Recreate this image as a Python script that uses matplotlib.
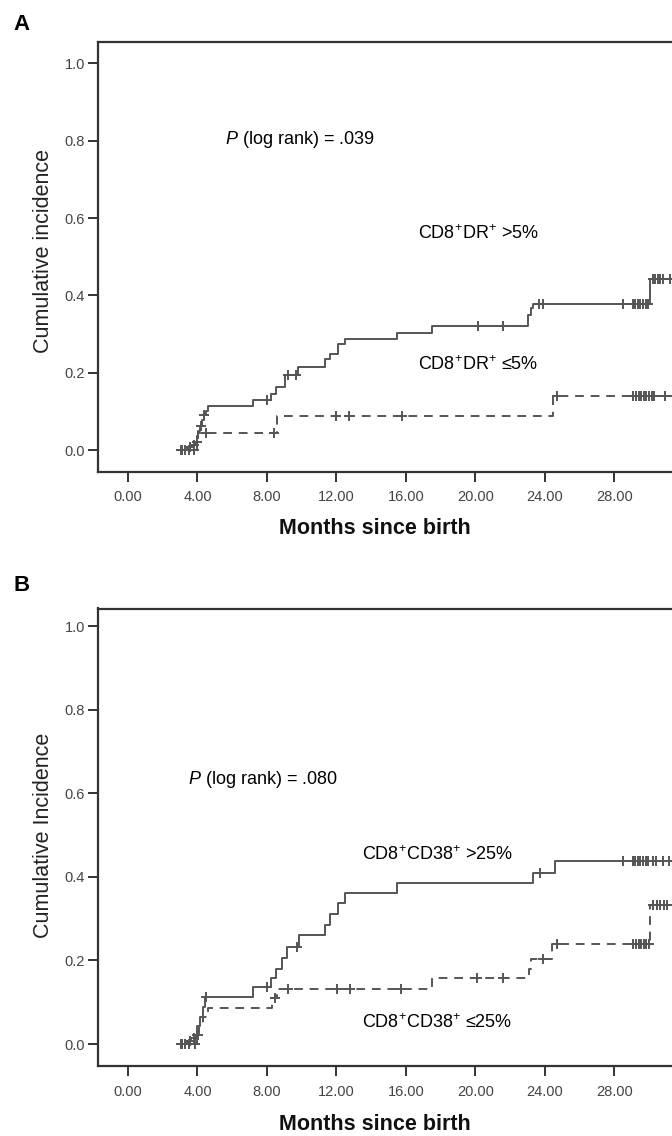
import numpy as np
import matplotlib.pyplot as plt

plt.rcParams['font.family'] = ['Liberation Sans', 'DejaVu Sans']
plt.rcParams['mathtext.fontset'] = 'custom'
plt.rcParams['mathtext.rm'] = 'Liberation Sans'
plt.rcParams['mathtext.it'] = 'Liberation Sans:italic'

# ---- data (months, cumulative incidence) ----
x_ticks = [0, 4, 8, 12, 16, 20, 24, 28]
y_ticks = [0.0, 0.2, 0.4, 0.6, 0.8, 1.0]
follow_start = 2.9
follow_end = 32.5

# panel A: CD8+DR+ > 5% (solid)
a_hi_times = [3.40, 3.65, 3.90, 4.00, 4.05, 4.15, 4.25, 4.35, 4.50, 4.62,
              7.20, 8.26, 8.54, 9.02, 9.79, 11.32, 11.61, 12.09, 12.47,
              15.47, 17.48, 23.05, 23.20, 23.33, 30.05]
a_hi_level = [0.007, 0.014, 0.021, 0.035, 0.049, 0.063, 0.077, 0.091, 0.102, 0.113,
              0.129, 0.145, 0.164, 0.194, 0.215, 0.236, 0.249, 0.273, 0.287,
              0.304, 0.322, 0.349, 0.367, 0.378, 0.442]
a_hi_cens = [3.05, 3.30, 3.55, 3.80, 3.95, 4.20, 4.40, 8.00, 9.21, 9.69,
             20.13, 21.60, 23.68, 23.87, 28.48, 29.05, 29.20, 29.35, 29.50,
             29.65, 29.80, 29.95, 30.20, 30.35, 30.50, 30.65, 30.80, 31.20]

# panel A: CD8+DR+ <= 5% (dashed)
a_lo_times = [3.95, 4.05, 8.56, 24.45]
a_lo_level = [0.021, 0.043, 0.087, 0.140]
a_lo_cens = [3.10, 3.50, 3.80, 4.49, 8.40, 12.00, 12.75, 15.75, 24.68,
             29.10, 29.25, 29.40, 29.55, 29.70, 29.85, 30.00, 30.15, 30.30, 30.90]

# panel B: CD8+CD38+ > 25% (solid)
b_hi_times = [3.40, 3.65, 3.90, 4.00, 4.15, 4.30, 4.45, 7.21, 8.21, 8.52,
              8.85, 9.14, 9.84, 11.34, 11.61, 12.09, 12.47, 15.50, 23.33, 24.60]
b_hi_level = [0.007, 0.014, 0.021, 0.043, 0.065, 0.088, 0.113, 0.136, 0.157, 0.179,
              0.205, 0.233, 0.260, 0.284, 0.310, 0.337, 0.361, 0.386, 0.410, 0.439]
b_hi_cens = [3.05, 3.30, 3.55, 3.80, 3.95, 4.49, 7.98, 9.71, 23.72, 28.48,
             29.05, 29.20, 29.35, 29.50, 29.65, 29.80, 29.95, 30.20, 30.40,
             30.78, 31.16]

# panel B: CD8+CD38+ <= 25% (dashed)
b_lo_times = [3.95, 4.10, 4.30, 4.60, 8.30, 8.55, 17.48, 23.08, 23.20, 24.42, 30.07]
b_lo_level = [0.022, 0.044, 0.065, 0.087, 0.109, 0.131, 0.157, 0.180, 0.203, 0.239, 0.333]
b_lo_cens = [3.10, 3.50, 3.85, 4.05, 8.45, 9.23, 12.05, 12.77, 15.72, 20.10,
             21.60, 23.87, 24.70, 29.10, 29.25, 29.40, 29.55, 29.70, 29.85,
             30.00, 30.25, 30.45, 30.65, 30.85, 31.05]

LINE = '#555555'
SPINE = '#333333'
W, H = 672, 1136


def px_axes(fig, left, top, right, bottom):
    '''axes from pixel edges (origin top-left)'''
    return fig.add_axes([left / W, 1 - bottom / H, (right - left) / W, (bottom - top) / H])


def km_curve(ax, times, levels, cens, ls):
    t = np.r_[follow_start, times, follow_end]
    v = np.r_[0.0, levels, levels[-1]]
    ax.step(t, v, where='post', color=LINE, lw=1.4, ls=ls)
    idx = np.searchsorted(t, cens, side='right') - 1
    ax.plot(cens, v[idx], ls='none', marker='+', ms=7, mew=1.4, color=LINE)


def style_axes(ax, ylim):
    ax.set_xlim(-1.71, 34.5)
    ax.set_ylim(*ylim)
    ax.set_xticks(x_ticks)
    ax.set_xticklabels([f'{v:.2f}' for v in x_ticks])
    ax.set_yticks(y_ticks)
    ax.set_yticklabels([f'{v:.1f}' for v in y_ticks])
    for s in ax.spines.values():
        s.set_color(SPINE)
        s.set_linewidth(1.6)
    ax.tick_params(axis='both', direction='out', length=7.5, width=1.4,
                   color=SPINE, labelcolor='#444444', labelsize=10.5)
    ax.tick_params(axis='x', pad=6)
    ax.tick_params(axis='y', pad=2)


fig = plt.figure(figsize=(W / 100, H / 100), dpi=100)

# ---------- panel A ----------
axA = px_axes(fig, 98.3, 41.7, 128 + 17.37 * 34.5, 471.7)
style_axes(axA, (-0.0561, 1.0564))
km_curve(axA, a_hi_times, a_hi_level, a_hi_cens, '-')
km_curve(axA, a_lo_times, a_lo_level, a_lo_cens, (0, (4.5, 3.5)))
axA.text(5.58, 0.804, r'$\mathit{P}$ (log rank) = .039', fontsize=13, va='center')
axA.text(16.71, 0.561, r'CD8$^{+}$DR$^{+}$ >5%', fontsize=13, va='center')
axA.text(16.71, 0.220, r'CD8$^{+}$DR$^{+}$ ≤5%', fontsize=13, va='center')

# ---------- panel B ----------
axB = px_axes(fig, 98.3, 608.5, 128 + 17.37 * 34.5, 1066)
style_axes(axB, (-0.0526, 1.042))
km_curve(axB, b_hi_times, b_hi_level, b_hi_cens, '-')
km_curve(axB, b_lo_times, b_lo_level, b_lo_cens, (0, (4.5, 3.5)))
axB.text(3.47, 0.634, r'$\mathit{P}$ (log rank) = .080', fontsize=13, va='center')
axB.text(13.45, 0.452, r'CD8$^{+}$CD38$^{+}$ >25%', fontsize=13, va='center')
axB.text(13.45, 0.050, r'CD8$^{+}$CD38$^{+}$ ≤25%', fontsize=13, va='center')

# panel letters and axis titles
fig.text(21.7 / W, 1 - 25 / H, 'A', fontsize=16, fontweight='bold', ha='center', va='center')
fig.text(21.7 / W, 1 - 585.7 / H, 'B', fontsize=16, fontweight='bold', ha='center', va='center')
fig.text(44 / W, 1 - 251 / H, 'Cumulative incidence', rotation=90, fontsize=15.5,
         ha='center', va='center', color='#222222')
fig.text(44 / W, 1 - 835 / H, 'Cumulative Incidence', rotation=90, fontsize=15.5,
         ha='center', va='center', color='#222222')
fig.text(375 / W, 1 - 528 / H, 'Months since birth', fontsize=15.5, fontweight='bold',
         ha='center', va='center', color='#111111')
fig.text(375 / W, 1 - 1125 / H, 'Months since birth', fontsize=15.5, fontweight='bold',
         ha='center', va='center', color='#111111')

fig.savefig('out.png', dpi=100, facecolor='white')
